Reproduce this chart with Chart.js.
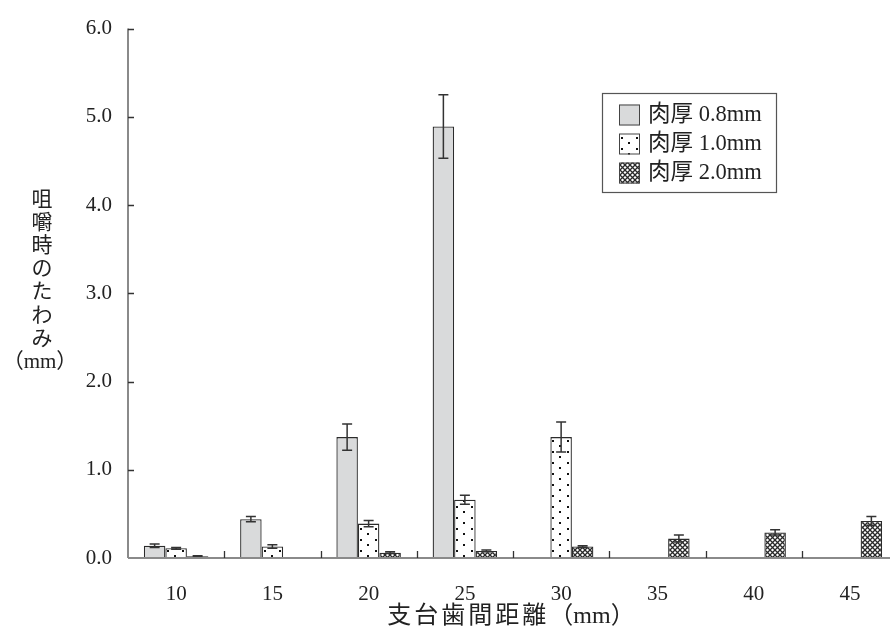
<!DOCTYPE html>
<html><head><meta charset="utf-8">
<script src="https://cdn.jsdelivr.net/npm/chart.js@4"></script>
<style>html,body{margin:0;padding:0;background:#fff;overflow:hidden;width:890px;height:633px}
canvas{display:block}</style></head>
<body><canvas id="c" width="900" height="633" style="width:900px;height:633px"></canvas>
<script>
// ---- data ----
const categories = ['10','15','20','25','30','35','40','45'];
const seriesLabels = ['肉厚 0.8mm','肉厚 1.0mm','肉厚 2.0mm'];
const thick08    = [0.14, 0.44, 1.37, 4.89, null, null, null, null];
const thick08Err = [0.02, 0.03, 0.15, 0.36, null, null, null, null];
const thick10    = [0.11, 0.13, 0.39, 0.66, 1.37, null, null, null];
const thick10Err = [0.01, 0.02, 0.035,0.05, 0.17, null, null, null];
const thick20    = [0.02, null, 0.06, 0.08, 0.13, 0.22, 0.29, 0.42];
const thick20Err = [0.005,null, 0.01, 0.01, 0.01, 0.04, 0.03, 0.05];
const yTitleChars = ['咀','嚼','時','の','た','わ','み'];
const yTitleUnit = '（mm）';
const xTitleMain = '支台歯間距離';
const xTitleUnit = '（mm）';

const errs = [thick08Err, thick10Err, thick20Err];
const FONT = "'Liberation Serif','Noto Sans CJK JP',serif";
const CAT_PCT = 0.67;

// ---- patterns ----
const dotTile = (()=>{
  const w=15,h=11;
  const c=document.createElement('canvas'); c.width=w; c.height=h;
  const g=c.getContext('2d'); g.fillStyle='#fff'; g.fillRect(0,0,w,h);
  g.fillStyle='#111'; g.fillRect(2,3,2,2); g.fillRect(9,8,2,2);
  return c;
})();
function hatchPattern(){
  const s=5;
  const c=document.createElement('canvas'); c.width=s; c.height=s;
  const g=c.getContext('2d'); g.fillStyle='#fff'; g.fillRect(0,0,s,s);
  g.strokeStyle='#2a2a2a'; g.lineWidth=1.3;
  g.beginPath();
  g.moveTo(-1,-1); g.lineTo(s+1,s+1);
  g.moveTo(s+1,-1); g.lineTo(-1,s+1);
  g.stroke();
  return g.createPattern(c,'repeat');
}
const hatchFill = hatchPattern();
const grayFill = '#d9dadb';
function dotsAt(ctx2d, left, top){
  const p=ctx2d.createPattern(dotTile,'repeat');
  p.setTransform(new DOMMatrix([1,0,0,1,Math.round(left),Math.round(top)]));
  return p;
}
// dotted fill aligned to each bar's left edge (bar is the middle one of the group)
function dottedFill(c){
  const chart=c.chart, xs=chart.scales && chart.scales.x, ys=chart.scales && chart.scales.y;
  if(!xs || c.dataIndex==null) return dotsAt(chart.ctx,0,0);
  const cw=xs.width/categories.length;
  const left=xs.getPixelForValue(c.dataIndex)-cw*CAT_PCT/6;
  return dotsAt(chart.ctx,left,ys.getPixelForValue(0));
}

const decor = {
  id:'decor',
  afterDatasetsDraw(chart){
    const ctx=chart.ctx, ys=chart.scales.y;
    ctx.save();
    ctx.strokeStyle='#333'; ctx.lineWidth=1.5;
    errs.forEach((arr,di)=>{
      const meta=chart.getDatasetMeta(di);
      const vals=chart.data.datasets[di].data;
      meta.data.forEach((el,j)=>{
        const v=vals[j], e=arr[j];
        if(v==null||e==null) return;
        const top=ys.getPixelForValue(v+e), bot=ys.getPixelForValue(Math.max(0,v-e));
        const cx=el.x;
        ctx.beginPath();
        ctx.moveTo(cx,top); ctx.lineTo(cx,bot);
        ctx.moveTo(cx-5,top); ctx.lineTo(cx+5,top);
        ctx.moveTo(cx-5,bot); ctx.lineTo(cx+5,bot);
        ctx.stroke();
      });
    });
    ctx.restore();
  },
  afterDraw(chart){
    const ctx=chart.ctx, a=chart.chartArea, xs=chart.scales.x, ys=chart.scales.y;
    ctx.save();
    // axis lines
    ctx.strokeStyle='#8a8a8a'; ctx.lineWidth=2;
    ctx.beginPath();
    ctx.moveTo(a.left,a.top); ctx.lineTo(a.left,a.bottom);
    ctx.moveTo(a.left,a.bottom); ctx.lineTo(a.right,a.bottom);
    ctx.stroke();
    // y ticks (inside)
    ctx.strokeStyle='#333'; ctx.lineWidth=1.3;
    ctx.beginPath();
    ys.ticks.forEach(t=>{
      if(t.value===0) return;
      const py=Math.round(ys.getPixelForValue(t.value))+0.5;
      ctx.moveTo(a.left,py); ctx.lineTo(a.left+6,py);
    });
    // x ticks at category boundaries (inside)
    for(let k=1;k<categories.length;k++){
      const px=Math.round((xs.getPixelForValue(k-1)+xs.getPixelForValue(k))/2)+0.5;
      ctx.moveTo(px,a.bottom); ctx.lineTo(px,a.bottom-7);
    }
    ctx.stroke();
    // y axis title (stacked vertically)
    ctx.fillStyle='#222';
    ctx.textAlign='center'; ctx.textBaseline='middle';
    ctx.font="21px "+FONT;
    yTitleChars.forEach((ch,i)=>ctx.fillText(ch,42,200+i*23.2));
    ctx.fillText(yTitleUnit,40,200+yTitleChars.length*23.2);
    // x axis title
    ctx.font="24px "+FONT;
    ctx.textAlign='left';
    ctx.letterSpacing='3px';
    const w1=ctx.measureText(xTitleMain).width;
    ctx.letterSpacing='0px';
    const w2=ctx.measureText(xTitleUnit).width;
    const x0=511-(w1+w2)/2;
    ctx.letterSpacing='3px';
    ctx.fillText(xTitleMain,x0,617);
    ctx.letterSpacing='0px';
    ctx.fillText(xTitleUnit,x0+w1,617);
    // legend
    const lx=602.5, ly=93.5, lw=174, lh=99;
    ctx.strokeStyle='#555'; ctx.lineWidth=1.2;
    ctx.strokeRect(lx,ly,lw,lh);
    const rows=[114.5,143.5,172.5];
    const swFills=[grayFill, dotsAt(ctx,619,rows[1]-10), hatchFill];
    ctx.font="22.5px "+FONT;
    chart.data.datasets.forEach((ds,i)=>{
      const sy=rows[i];
      ctx.fillStyle=swFills[i];
      ctx.fillRect(619,sy-10,21,21);
      ctx.strokeStyle='#444'; ctx.lineWidth=1;
      ctx.strokeRect(619.5,sy-9.5,20,20);
      ctx.fillStyle='#222';
      ctx.fillText(ds.label,648,sy+1);
    });
    ctx.restore();
  }
};

new Chart(document.getElementById('c'),{
  type:'bar',
  data:{
    labels:categories,
    datasets:[
      {label:seriesLabels[0],data:thick08,backgroundColor:grayFill},
      {label:seriesLabels[1],data:thick10,backgroundColor:dottedFill},
      {label:seriesLabels[2],data:thick20,backgroundColor:hatchFill}
    ]
  },
  options:{
    responsive:false, animation:false,
    datasets:{bar:{borderColor:'#2b2b2b',borderWidth:1.3,categoryPercentage:CAT_PCT,barPercentage:1.0}},
    layout:{padding:{top:20,right:2,left:0,bottom:0}},
    plugins:{legend:{display:false},tooltip:{enabled:false}},
    scales:{
      x:{
        grid:{display:false,drawTicks:false},
        border:{display:false},
        ticks:{padding:24,color:'#222',font:{family:FONT,size:21}},
        afterFit(s){s.height=75;}
      },
      y:{
        min:0,max:6,
        grid:{display:false,drawTicks:false},
        border:{display:false},
        ticks:{stepSize:1,padding:16,color:'#222',font:{family:FONT,size:21},
          callback:v=>Number(v).toFixed(1)},
        afterFit(s){s.width=128;}
      }
    }
  },
  plugins:[decor]
});
</script>
</body></html>
